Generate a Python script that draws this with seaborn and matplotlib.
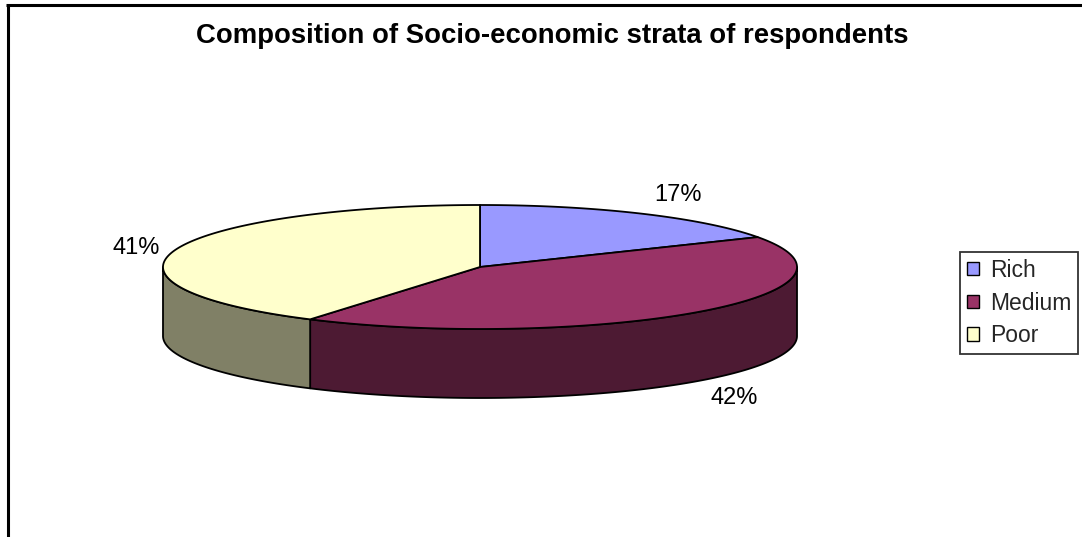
import numpy as np
import matplotlib
matplotlib.use("Agg")
import matplotlib.pyplot as plt
import seaborn as sns
from matplotlib.patches import Polygon, Patch

# ---- data ----
categories = ["Rich", "Medium", "Poor"]
shares = [17, 42, 41]
title = "Composition of Socio-economic strata of respondents"

# ---- styling ----
top_colors = ["#9999FF", "#993366", "#FFFFCC"]
side_colors = ["#4D4D80", "#4D1A33", "#808066"]
label_offsets = [(37, -19), (37, 17), (-39, -2)]   # pixel offsets of % labels from rim

sns.set_theme(style="white")
plt.rcParams["font.family"] = ["Liberation Sans", "DejaVu Sans"]

W, H = 1082, 537
fig = plt.figure(figsize=(W / 100, H / 100), dpi=100)
ax = fig.add_axes([0, 0, 1, 1])
ax.set_xlim(0, W)
ax.set_ylim(H, 0)
ax.axis("off")

# chart frame (left + top visible)
ax.plot([7.5, 7.5], [4.5, H + 5], color="black", lw=2.2, solid_capstyle="butt")
ax.plot([6, W + 5], [4.5, 4.5], color="black", lw=2.2, solid_capstyle="butt")

# pie geometry (layout)
CX, CY, A, B, D = 480, 267, 317, 62, 69


def rim(theta_deg, drop=0.0):
    t = np.radians(theta_deg)
    return CX + A * np.sin(t), CY - B * np.cos(t) + drop


frac = np.asarray(shares, dtype=float) / np.sum(shares)
edges = np.concatenate([[0.0], np.cumsum(frac) * 360.0])

# side faces (front half only, 90..270 deg clockwise from top)
for i in range(len(shares)):
    lo, hi = max(edges[i], 90.0), min(edges[i + 1], 270.0)
    if hi > lo:
        th = np.linspace(lo, hi, 200)
        x, y = rim(th)
        xb, yb = rim(th[::-1], D)
        pts = np.column_stack([np.concatenate([x, xb]), np.concatenate([y, yb])])
        ax.add_patch(Polygon(pts, closed=True, facecolor=side_colors[i],
                             edgecolor="black", lw=1.3, joinstyle="round"))

# top faces
for i in range(len(shares)):
    th = np.linspace(edges[i], edges[i + 1], 300)
    x, y = rim(th)
    pts = np.column_stack([np.concatenate([[CX], x]), np.concatenate([[CY], y])])
    ax.add_patch(Polygon(pts, closed=True, facecolor=top_colors[i],
                         edgecolor="black", lw=1.3, joinstyle="round"))

# percentage labels
for i in range(len(shares)):
    mid = (edges[i] + edges[i + 1]) / 2
    front = np.cos(np.radians(mid)) < 0
    px, py = rim(mid, D if front else 0)
    dx, dy = label_offsets[i]
    ax.text(px + dx, py + dy, f"{shares[i]:.0f}%", ha="center", va="center",
            fontsize=17, color="black")

# title
fig.text(552 / W, 1 - 36 / H, title, ha="center", va="center",
         fontsize=19.8, fontweight="bold", color="black")

# legend
handles = [Patch(facecolor=c, edgecolor="black", lw=1.0) for c in top_colors]
leg = fig.legend(handles, categories, loc="upper left",
                 bbox_to_anchor=(960 / W, 1 - 252 / H), borderaxespad=0,
                 fontsize=16.5, frameon=True, fancybox=False, shadow=False,
                 handlelength=0.55, handleheight=0.5, handletextpad=0.45,
                 labelspacing=0.42, borderpad=0.3)
leg.get_frame().set_edgecolor("black")
leg.get_frame().set_linewidth(1.3)
leg.get_frame().set_facecolor("white")

fig.savefig("out.png", dpi=100, facecolor="white")
